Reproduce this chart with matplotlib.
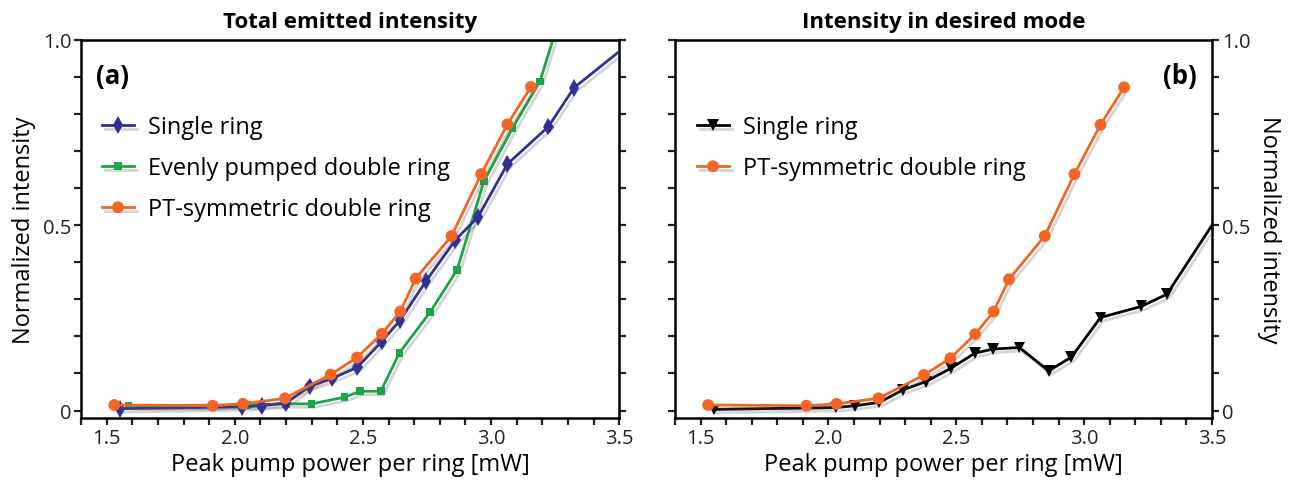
import numpy as np
import matplotlib
matplotlib.use("Agg")
import matplotlib.pyplot as plt
import matplotlib.patheffects as pe
from matplotlib.ticker import MultipleLocator, FixedLocator

plt.rcParams["font.family"] = ["Open Sans", "DejaVu Sans"]

# ---- data ----
single_x = [1.552, 2.028, 2.105, 2.199, 2.292, 2.381, 2.479, 2.573, 2.645,
            2.747, 2.861, 2.950, 3.064, 3.224, 3.324, 3.55]
single_total = [0.005, 0.010, 0.013, 0.020, 0.065, 0.087, 0.117, 0.186, 0.243,
                0.350, 0.460, 0.523, 0.665, 0.766, 0.871, 0.996]
single_mode = [0.003, 0.008, 0.013, 0.022, 0.056, 0.078, 0.114, 0.155, 0.166,
               0.170, 0.107, 0.144, 0.251, 0.281, 0.314, 0.553]

even_x = [1.585, 2.050, 2.200, 2.300, 2.428, 2.490, 2.570, 2.643, 2.762,
          2.868, 2.972, 3.084, 3.191, 3.30]
even_total = [0.013, 0.015, 0.018, 0.018, 0.036, 0.052, 0.052, 0.156, 0.265,
              0.380, 0.618, 0.762, 0.888, 1.13]

pt_x = [1.530, 1.914, 2.032, 2.196, 2.374, 2.477, 2.574, 2.646, 2.706,
        2.846, 2.962, 3.064, 3.156]
pt_total = [0.015, 0.013, 0.018, 0.033, 0.097, 0.143, 0.207, 0.267, 0.356,
            0.471, 0.638, 0.772, 0.873]
pt_mode = [0.015, 0.013, 0.018, 0.033, 0.096, 0.141, 0.206, 0.267, 0.354,
           0.471, 0.638, 0.771, 0.872]

blue = "#2f3192"
green = "#1ea34a"
orange = "#f26522"

shadow = [pe.SimpleLineShadow(offset=(2, -2.5), shadow_color="0.35", alpha=0.25),
          pe.Normal()]

fig = plt.figure(figsize=(12.92, 4.81), dpi=100)
axa = fig.add_axes([0.0627, 0.129, 0.4165, 0.786])
axb = fig.add_axes([0.5224, 0.129, 0.4157, 0.786])


def style_axes(ax, side):
    ax.set_xlim(1.4, 3.5)
    ax.set_ylim(-0.02, 1.0)
    ax.xaxis.set_major_locator(FixedLocator([1.5, 2.0, 2.5, 3.0, 3.5]))
    ax.xaxis.set_minor_locator(MultipleLocator(0.1))
    ax.yaxis.set_major_locator(FixedLocator([0, 0.5, 1.0]))
    ax.yaxis.set_minor_locator(MultipleLocator(0.1))
    ax.set_xticklabels(["1.5", "2.0", "2.5", "3.0", "3.5"])
    ax.set_yticklabels(["0", "0.5", "1.0"])
    ax.tick_params(which="both", direction="out", length=5, width=1.6,
                   left=True, right=True, top=False, bottom=True,
                   labelsize=14.5, colors="#222222", pad=2)
    if side == "left":
        ax.tick_params(labelleft=True, labelright=False)
    else:
        ax.tick_params(labelleft=False, labelright=True)
        ax.yaxis.set_label_position("right")
    for s in ax.spines.values():
        s.set_linewidth(1.8)
    ax.set_xlabel("Peak pump power per ring [mW]", fontsize=17, labelpad=3)
    if side == "left":
        ax.set_ylabel("Normalized intensity", fontsize=17, labelpad=5)
    else:
        ax.set_ylabel("Normalized intensity", fontsize=17, rotation=270, labelpad=22)


style_axes(axa, "left")
style_axes(axb, "right")

leg_kw = dict(loc="upper left", frameon=False, fontsize=17, handlelength=1.35,
              handletextpad=0.6, labelspacing=0.72, borderaxespad=0, borderpad=0)

# panel (a)
axa.plot(single_x, single_total, color=blue, lw=2, marker="d", ms=9, mew=0,
         label="Single ring", path_effects=shadow, zorder=3)
axa.plot(even_x, even_total, color=green, lw=2, marker="s", ms=5.5, mew=0,
         label="Evenly pumped double ring", path_effects=shadow, zorder=2)
axa.plot(pt_x, pt_total, color=orange, lw=2, marker="o", ms=8.5, mew=0,
         label="PT-symmetric double ring", path_effects=shadow, zorder=4)
axa.set_title("Total emitted intensity", fontsize=16, fontweight="bold", pad=9)
axa.text(0.028, 0.905, "(a)", transform=axa.transAxes, fontsize=18.5,
         fontweight="bold", va="center", ha="left")
axa.legend(bbox_to_anchor=(0.039, 0.80), **leg_kw)

# panel (b)
axb.plot(single_x, single_mode, color="black", lw=2, marker="v", ms=8.5, mew=0,
         label="Single ring", path_effects=shadow, zorder=3)
axb.plot(pt_x, pt_mode, color=orange, lw=2, marker="o", ms=8.5, mew=0,
         label="PT-symmetric double ring", path_effects=shadow, zorder=4)
axb.set_title("Intensity in desired mode", fontsize=16, fontweight="bold", pad=9)
axb.text(0.972, 0.905, "(b)", transform=axb.transAxes, fontsize=18.5,
         fontweight="bold", va="center", ha="right")
axb.legend(bbox_to_anchor=(0.041, 0.80), **leg_kw)

fig.savefig("out.png", dpi=100, facecolor="w")
